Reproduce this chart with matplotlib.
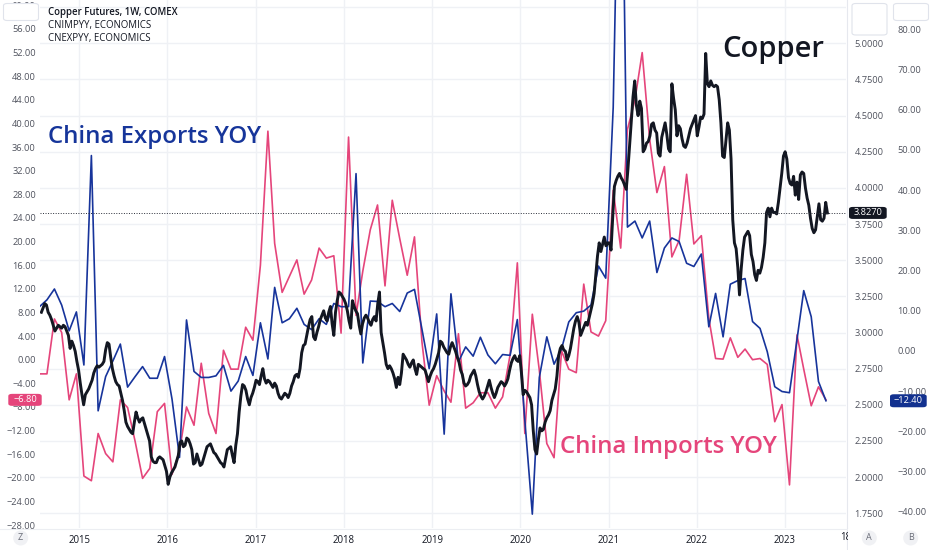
import matplotlib
matplotlib.use("Agg")
import matplotlib.pyplot as plt
import matplotlib.dates as mdates
from matplotlib.patches import Rectangle, FancyBboxPatch, Ellipse
from matplotlib.ticker import FixedLocator, FuncFormatter
import pandas as pd
from datetime import datetime

plt.rcParams['font.family'] = ['Open Sans', 'DejaVu Sans']

# ---------------- data ----------------
copper_start = "2014-07-28"   # weekly closes, COMEX copper (USD/lb)
copper = [
    3.14, 3.17, 3.20, 3.19, 3.14, 3.12, 3.09, 3.05, 3.01, 3.03,
    3.05, 3.04, 3.03, 3.05, 3.04, 3.01, 2.98, 2.89, 2.94, 2.91,
    2.87, 2.80, 2.74, 2.65, 2.57, 2.50, 2.57, 2.59, 2.61, 2.64,
    2.67, 2.72, 2.75, 2.77, 2.76, 2.77, 2.78, 2.80, 2.88, 2.93,
    2.92, 2.83, 2.75, 2.70, 2.66, 2.64, 2.63, 2.58, 2.53, 2.46,
    2.38, 2.35, 2.33, 2.31, 2.30, 2.38, 2.45, 2.41, 2.38, 2.40,
    2.41, 2.37, 2.33, 2.29, 2.25, 2.14, 2.11, 2.10, 2.10, 2.13,
    2.14, 2.13, 2.12, 2.08, 2.04, 1.95, 2.00, 2.03, 2.05, 2.07,
    2.11, 2.15, 2.24, 2.25, 2.21, 2.22, 2.27, 2.26, 2.23, 2.19,
    2.09, 2.10, 2.16, 2.12, 2.08, 2.09, 2.13, 2.17, 2.21, 2.22,
    2.23, 2.20, 2.17, 2.16, 2.14, 2.12, 2.10, 2.09, 2.07, 2.13,
    2.19, 2.20, 2.21, 2.15,
    2.10, 2.22, 2.30, 2.45, 2.56, 2.64, 2.63, 2.60, 2.54, 2.50,
    2.55, 2.58, 2.62, 2.67, 2.66, 2.64, 2.70, 2.75, 2.68, 2.65,
    2.67, 2.66, 2.64, 2.62, 2.65, 2.63, 2.58, 2.55, 2.54, 2.56,
    2.58, 2.57, 2.55, 2.58, 2.63, 2.66, 2.70, 2.71, 2.69, 2.75,
    2.86, 2.91, 2.92, 2.98, 3.04, 3.09, 3.11, 2.97, 2.95, 3.00,
    3.04, 3.09, 3.12, 3.15, 3.10, 3.08, 3.14, 3.18, 3.06, 2.98,
    3.14, 3.22, 3.28, 3.27, 3.25, 3.23, 3.20, 3.15, 3.08, 3.03,
    3.22, 3.18, 3.15, 3.13, 3.05, 2.99, 3.06, 3.10, 3.12, 3.10,
    3.07, 3.05, 3.09, 3.11, 3.08, 3.20, 3.28, 3.00, 2.93, 2.86,
    2.78, 2.75, 2.77, 2.75, 2.72, 2.68, 2.62, 2.69, 2.64, 2.72,
    2.85, 2.83, 2.81, 2.78, 2.76, 2.79, 2.81, 2.75, 2.71, 2.78,
    2.77, 2.76, 2.75, 2.74, 2.70, 2.66, 2.70, 2.73,
    2.75, 2.78, 2.82, 2.86, 2.94, 2.93, 2.90, 2.88, 2.86, 2.85,
    2.90, 2.93, 2.90, 2.87, 2.83, 2.80, 2.74, 2.71, 2.65, 2.63,
    2.64, 2.66, 2.70, 2.72, 2.74, 2.70, 2.64, 2.59, 2.56, 2.54,
    2.56, 2.59, 2.63, 2.67, 2.62, 2.58, 2.55, 2.58, 2.62, 2.64,
    2.66, 2.65, 2.63, 2.65, 2.68, 2.74, 2.79, 2.82, 2.84, 2.81,
    2.80, 2.84, 2.72, 2.57, 2.60, 2.59, 2.57, 2.55, 2.50, 2.32,
    2.19, 2.16, 2.26, 2.34, 2.32, 2.33, 2.38, 2.41, 2.43, 2.46,
    2.53, 2.57, 2.61, 2.70, 2.84, 2.89, 2.91, 2.88, 2.87, 2.81,
    2.84, 2.89, 2.96, 3.03, 3.08, 3.11, 3.07, 2.98, 3.01, 3.04,
    3.07,
    3.05, 3.10, 3.15, 3.20, 3.27, 3.40, 3.53, 3.62, 3.56, 3.61,
    3.66, 3.60, 3.62, 3.62, 3.57, 3.80, 4.01, 4.05, 4.08, 4.10,
    4.07, 4.05, 4.02, 3.99, 4.13, 4.30, 4.48, 4.63, 4.74, 4.57,
    4.50, 4.60, 4.55, 4.25, 4.27, 4.31, 4.32, 4.36, 4.44, 4.45,
    4.40, 4.38, 4.24, 4.22, 4.35, 4.40, 4.45, 4.37, 4.27, 4.25,
    4.72, 4.62, 4.54, 4.36, 4.43, 4.41, 4.34, 4.29, 4.28, 4.31,
    4.36, 4.41, 4.44, 4.47, 4.50, 4.36, 4.42, 4.49, 4.48, 4.51,
    4.93, 4.72, 4.70, 4.74, 4.71, 4.70, 4.71, 4.70, 4.61, 4.45,
    4.22, 4.21, 4.33, 4.45, 4.40, 4.20, 3.78, 3.62, 3.58, 3.45,
    3.26, 3.44, 3.57, 3.66, 3.68, 3.70, 3.67, 3.54, 3.49, 3.40,
    3.36, 3.43, 3.41, 3.45, 3.52, 3.62, 3.83, 3.86, 3.80, 3.86,
    3.83, 3.83, 3.82, 3.90, 4.00, 4.10, 4.22, 4.25, 4.20, 4.07,
    4.03, 4.02, 4.08, 3.95, 4.04, 3.92, 4.09, 4.11, 4.10, 4.00,
    3.93, 3.88, 3.79, 3.72, 3.69, 3.71, 3.80, 3.89, 3.78, 3.77,
    3.79, 3.90, 3.827,
]

month_start = "2014-07-01"    # monthly, Jul 2014 .. Jun 2023
imports_yoy = [
    -2.4, -2.4, 6.9, 4.6, -6.8, -2.4,
    -19.7, -20.5, -12.5, -15.9, -17.3, -6.8, -8.1, -13.8, -20.1, -18.4, -8.8, -7.4,
    -19.4, -15.5, -8.0, -11.1, -0.6, -9.1, -12.5, 1.6, -1.6, -1.6, 5.5, 3.3,
    16.0, 38.7, 19.7, 11.4, 14.1, 16.9, 11.1, 13.5, 18.9, 17.2, 17.6, 4.5,
    37.7, 7.5, 15.0, 22.0, 26.2, 12.5, 27.0, 20.5, 14.3, 20.8, 3.0, -7.7,
    -2.7, -5.3, -7.2, 4.4, -8.2, -7.3, -5.6, -5.6, -8.2, -6.3, 0.8, 16.4,
    -12.5, 7.7, -1.8, -14.2, -16.6, 1.5, -1.6, -2.2, 12.8, 4.7, 4.0, 6.6,
    28.7, 18.9, 39.0, 44.0, 52.0, 37.3, 28.3, 32.7, 17.4, 20.2, 31.4, 19.6,
    21.0, 7.0, 0.2, 0.1, 3.7, 0.4, 1.8, 0.0, 0.2, -0.8, -10.5, -7.6,
    -21.2, 4.2, -1.6, -7.8, -4.6, -6.8,
]
exports_yoy = [
    11.0, 12.7, 15.4, 11.4, 5.0, 9.7,
    -3.5, 48.6, -14.9, -6.4, -2.5, 1.7, -9.0, -6.4, -3.9, -6.8, -6.8, -1.4,
    -12.0, -26.5, 7.7, -5.1, -6.6, -6.6, -6.2, -3.6, -10.0, -7.5, -1.4, -6.1,
    7.0, -2.0, 15.8, 7.0, 8.0, 10.6, 6.6, 5.3, 8.0, 6.6, 11.8, 11.0,
    11.0, 44.1, -3.0, 12.4, 12.3, 11.0, 11.8, 9.8, 14.4, 15.3, 5.4, -4.4,
    9.2, -20.7, 14.2, -2.7, 1.0, -1.3, 3.4, -1.0, -3.2, -0.9, -1.1, 7.8,
    -17.2, -40.6, -6.6, 3.5, -3.3, 0.5, 7.2, 9.5, 9.9, 11.4, 21.1, 18.1,
    60.6, 154.9, 30.8, 32.3, 28.1, 32.3, 19.5, 25.6, 28.1, 27.2, 21.8, 21.0,
    24.1, 6.0, 14.3, 3.5, 16.6, 17.5, 18.0, 7.3, 5.6, -0.2, -8.9, -10.1,
    -10.4, 2.8, 15.0, 8.5, -7.6, -12.4,
]

year_labels = [2015, 2016, 2017, 2018, 2019, 2020, 2021, 2022, 2023]
left_ticks = [-28, -24, -20, -16, -12, -8, -4, 0, 4, 8, 12, 16, 20, 24, 28,
              32, 36, 40, 44, 48, 52, 56, 60]
copper_ticks = [1.75, 2.0, 2.25, 2.5, 2.75, 3.0, 3.25, 3.5, 3.75, 4.0,
                4.25, 4.5, 4.75, 5.0, 5.25]
export_ticks = [-40, -30, -20, -10, 0, 10, 20, 30, 40, 50, 60, 70, 80]

# ---------------- colours ----------------
PINK = '#e5457b'
BLUE = '#17349b'
BLACK = '#131722'
GRID = '#eff1f5'
TXT = '#50535e'

W, H = 932, 550
fig = plt.figure(figsize=(W / 100, H / 100), dpi=100)
fig.patch.set_facecolor('white')

PL, PR, PT, PB = 40, 846, 0, 528
rect = [PL / W, 1 - PB / H, (PR - PL) / W, (PB - PT) / H]

axc = fig.add_axes(rect)
axi = axc.twinx()
axe = axc.twinx()
axt = axc.twinx()
for z, a in enumerate([axc, axi, axe, axt]):
    a.set_zorder(z)
    for s in a.spines.values():
        s.set_visible(False)
axc.patch.set_facecolor('white')
for a in [axi, axe, axt]:
    a.patch.set_visible(False)

cdates = pd.date_range(copper_start, periods=len(copper), freq="7D")
mdts = pd.date_range(month_start, periods=len(imports_yoy), freq="MS") + pd.Timedelta(days=19)

# x scale
x2015 = mdates.date2num(datetime(2015, 1, 1))
ppd = 88.2 / 365.25
xlim = (x2015 - (79.3 - PL) / ppd, x2015 + (PR - 79.3) / ppd)
axc.set_xlim(*xlim)

# y scales
axc.set_ylim(1.648, 5.2995)
axt.set_ylim(1.648, 5.2995)
axi.set_ylim(-28.50, 60.91)
axe.set_ylim(-44.05, 87.29)

def fmt(dec):
    return FuncFormatter(lambda v, p: f"{v:.{dec}f}".replace('-', '\u2212'))

# copper axis (grid + labels on right)
axc.yaxis.set_major_locator(FixedLocator(copper_ticks))
axc.yaxis.set_major_formatter(fmt(4))
axc.yaxis.tick_right()
axc.tick_params(axis='y', length=0, pad=6, labelsize=6.7, labelcolor=TXT)
axc.xaxis.set_major_locator(FixedLocator([mdates.date2num(datetime(y, 1, 1)) for y in year_labels]))
axc.xaxis.set_major_formatter(FuncFormatter(lambda v, p: mdates.num2date(v).strftime('%Y')))
axc.tick_params(axis='x', length=0, pad=5, labelsize=6.9, labelcolor=BLACK)
axc.grid(True, color=GRID, lw=1.0)
axc.set_axisbelow(True)

# imports axis on left
axi.yaxis.tick_left()
axi.yaxis.set_major_locator(FixedLocator(left_ticks))
axi.yaxis.set_major_formatter(fmt(2))
axi.tick_params(axis='y', length=0, pad=3, labelsize=6.7, labelcolor=TXT)

# exports axis far right
axe.spines['right'].set_position(('outward', 0))
axe.yaxis.set_major_locator(FixedLocator(export_ticks))
axe.yaxis.set_major_formatter(fmt(2))
axe.tick_params(axis='y', length=0, pad=37, labelsize=6.7, labelcolor=TXT)

axt.set_yticks([])

# lines
axi.plot(mdts, imports_yoy, color=PINK, lw=1.2, solid_joinstyle='round')
axe.plot(mdts, exports_yoy, color=BLUE, lw=1.2, solid_joinstyle='round')
axt.plot(cdates, copper, color=BLACK, lw=2.1, solid_joinstyle='round')
axt.axhline(copper[-1], color='#2a2e39', lw=0.7, ls=(0, (1, 1.6)))
axc.set_xlim(*xlim)

# ---------------- figure decorations ----------------
def fx(x):
    return x / W

def fy(y):
    return 1 - y / H

def frect(x0, y0, x1, y1, fc, ec='none', lw=0.0, z=10, rounded=False):
    if rounded:
        p = FancyBboxPatch((fx(x0), fy(y1)), (x1 - x0) / W, (y1 - y0) / H,
                           boxstyle="round,pad=0,rounding_size=0.004",
                           transform=fig.transFigure, fc=fc, ec=ec, lw=lw, zorder=z)
    else:
        p = Rectangle((fx(x0), fy(y1)), (x1 - x0) / W, (y1 - y0) / H,
                      transform=fig.transFigure, fc=fc, ec=ec, lw=lw, zorder=z)
    fig.add_artist(p)

# separator lines
fig.add_artist(plt.Line2D([fx(846.5), fx(846.5)], [0, 1], transform=fig.transFigure,
                          color='#e6e8ee', lw=0.8, zorder=9))
fig.add_artist(plt.Line2D([fx(0), fx(846.5)], [fy(528.5), fy(528.5)], transform=fig.transFigure,
                          color='#eceef2', lw=0.8, zorder=9))

# x label "18" partly hidden at right edge
fig.text(fx(840), fy(538), "18", fontsize=6.9, color=BLACK, va='center', ha='left', zorder=9)
frect(847.5, 529, 932, 550, 'white', z=9.5)

# top boxes on axis panels
frect(3.5, 3.5, 38.5, 20.5, 'white', ec='#e0e3eb', lw=0.8, rounded=True)
frect(852, 3.5, 887, 35, 'white', ec='#e0e3eb', lw=0.8, rounded=True)
frect(893.5, 3.5, 928.5, 20.5, 'white', ec='#e0e3eb', lw=0.8, rounded=True)

# round buttons
for cx, lab in [(20.7, 'Z'), (869.3, 'A'), (910.7, 'B')]:
    fig.add_artist(Ellipse((fx(cx), fy(538)), 15 / W, 15 / H, transform=fig.transFigure,
                           fc='#f0f1f4', ec='none', zorder=10))
    fig.text(fx(cx), fy(538), lab, fontsize=6.5, color='#6a6d78', ha='center', va='center', zorder=11)

# last value labels
def ypix(ax, v):
    return H - ax.transData.transform((xlim[1], v))[1]

yi = ypix(axi, imports_yoy[-1])
frect(8.3, yi - 6, 41.7, yi + 6, PINK, z=10, rounded=True)
fig.text(fx(25), fy(yi), f"{imports_yoy[-1]:.2f}".replace('-', '\u2212'), fontsize=6.7,
         color='white', ha='center', va='center', zorder=11)

ye = ypix(axe, exports_yoy[-1])
frect(890, ye - 6.5, 926.7, ye + 6.5, '#12318f', z=10, rounded=True)
fig.text(fx(908.3), fy(ye), f"{exports_yoy[-1]:.2f}".replace('-', '\u2212'), fontsize=6.7,
         color='white', ha='center', va='center', zorder=11)

yc = ypix(axt, copper[-1])
frect(849, yc - 6, 886.7, yc + 6, BLACK, z=10, rounded=True)
fig.text(fx(867.8), fy(yc), f"{copper[-1]:.4f}", fontsize=6.7,
         color='white', ha='center', va='center', zorder=11)

# header legend
fig.text(fx(47.5), fy(12.5), "Copper Futures, 1W, COMEX", fontsize=6.9, fontweight='semibold',
         color=BLACK, va='center', ha='left', zorder=11)
fig.text(fx(47.5), fy(25.5), "CNIMPYY, ECONOMICS", fontsize=6.9, color=BLACK,
         va='center', ha='left', zorder=11)
fig.text(fx(47.5), fy(38.5), "CNEXPYY, ECONOMICS", fontsize=6.9, color=BLACK,
         va='center', ha='left', zorder=11)

# annotations
fig.text(fx(48), fy(142.7), "China Exports YOY", fontsize=17.3, fontweight='semibold',
         color='#16359a', va='baseline', ha='left', zorder=11)
fig.text(fx(722), fy(57), "Copper", fontsize=21, fontweight='semibold', color=BLACK,
         va='baseline', ha='left', zorder=11)
fig.text(fx(560), fy(453), "China Imports YOY", fontsize=17.3, fontweight='semibold',
         color=PINK, va='baseline', ha='left', zorder=11)

fig.savefig("out.png", dpi=100)
